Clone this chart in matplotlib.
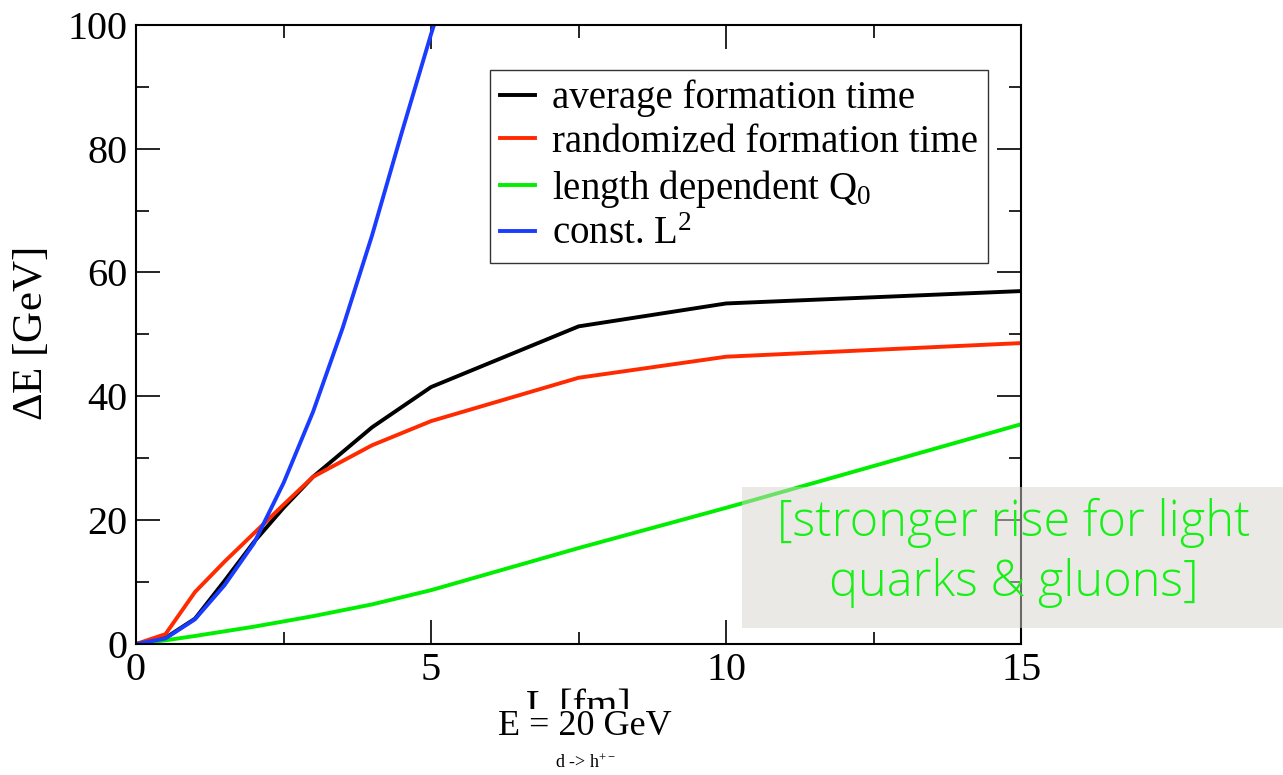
import matplotlib
matplotlib.use("Agg")
import matplotlib.pyplot as plt
from matplotlib.patches import Rectangle
from matplotlib.ticker import MultipleLocator

plt.rcParams['font.family'] = 'Liberation Serif'
plt.rcParams['mathtext.fontset'] = 'custom'
plt.rcParams['mathtext.rm'] = 'Liberation Serif'
plt.rcParams['mathtext.it'] = 'Liberation Serif:italic'

# data
L_avg = [0, 0.5, 1, 1.5, 2, 2.5, 3, 4, 5, 7.5, 10, 15]
dE_avg = [0, 1.0, 4.1, 10.2, 16.5, 22.0, 27.0, 35.0, 41.5, 51.3, 55.0, 57.0]

L_rand = [0, 0.5, 1, 1.5, 2, 2.5, 3, 4, 5, 7.5, 10, 15]
dE_rand = [0, 1.6, 8.4, 13.3, 17.9, 22.5, 27.0, 32.1, 36.0, 43.0, 46.4, 48.6]

L_q0 = [0, 0.5, 1, 2, 3, 4, 5, 7.5, 10, 15]
dE_q0 = [0, 0.6, 1.3, 2.8, 4.5, 6.4, 8.7, 15.5, 22.0, 35.5]

L_const = [0, 0.5, 1, 1.5, 2, 2.5, 3, 3.5, 4, 4.5, 5, 5.05]
dE_const = [0, 0.9, 4.0, 9.5, 16.3, 26.0, 37.5, 51.0, 66.0, 82.5, 98.5, 100]

labels = ["average formation time", "randomized formation time",
          r"length dependent Q$_{\mathrm{0}}$", r"const. L$^{\mathrm{2}}$"]

fig = plt.figure(figsize=(12.83, 7.75), dpi=100)
ax = fig.add_axes([0.106, 0.169, 0.690, 0.799])

ax.plot(L_avg, dE_avg, color="black", lw=2.8, label=labels[0])
ax.plot(L_rand, dE_rand, color="#ff2a00", lw=2.8, label=labels[1])
ax.plot(L_q0, dE_q0, color="#00ee00", lw=2.8, label=labels[2])
ax.plot(L_const, dE_const, color="#1a3cff", lw=2.8, label=labels[3])

ax.set_xlim(0, 15)
ax.set_ylim(0, 100)
ax.xaxis.set_major_locator(MultipleLocator(5))
ax.xaxis.set_minor_locator(MultipleLocator(2.5))
ax.yaxis.set_major_locator(MultipleLocator(20))
ax.yaxis.set_minor_locator(MultipleLocator(10))
ax.tick_params(which="both", direction="in", top=True, right=True,
               labelsize=29, width=1.2)
ax.tick_params(which="major", length=17, pad=6)
ax.tick_params(which="minor", length=9)
for s in ax.spines.values():
    s.set_linewidth(1.5)

ax.set_xlabel("L [fm]", fontsize=29, labelpad=0)
ax.set_ylabel(r"$\Delta$E [GeV]", fontsize=31, labelpad=12)

leg = ax.legend(loc="upper left", bbox_to_anchor=(0.4, 0.927), fontsize=28,
                frameon=True, fancybox=False, handlelength=0.9,
                handletextpad=0.45, labelspacing=0.17, borderpad=0.25,
                borderaxespad=0)
leg.get_frame().set_edgecolor("black")
leg.get_frame().set_linewidth(1.0)

# "E = 20 GeV" sits on a white patch that hides the lower half of the x label
fig.text(0.456, 0.062, "E = 20 GeV", fontsize=26, ha="center", va="center",
         bbox=dict(facecolor="white", edgecolor="none", pad=1))
fig.text(0.456, 0.016, r"d -> h$^{+-}$", fontsize=13, ha="center", va="center")

# grey annotation box over the plot
fig.patches.append(Rectangle((742 / 1283, 1 - 628 / 775), 541 / 1283, 141 / 775,
                             transform=fig.transFigure, facecolor="#d7d5cc",
                             alpha=0.5, edgecolor="none", zorder=5))
fig.text(0.790, 0.2865, "[stronger rise for light\nquarks & gluons]",
         family="Open Sans", fontweight="light", fontsize=35, color="#16f016",
         ha="center", va="center", linespacing=1.25, zorder=6)

fig.savefig("out.png", dpi=100)
